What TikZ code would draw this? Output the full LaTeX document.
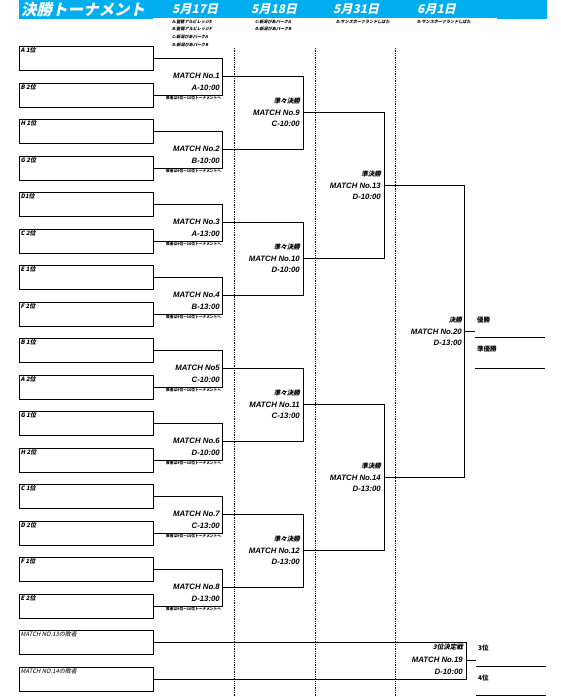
\documentclass[tikz,border=0pt]{standalone}
\usepackage{fontspec}
\setmainfont{Liberation Sans}
\newfontfamily\jp{Noto Sans CJK JP}
\newfontfamily\jpi{Noto Sans CJK JP}[FakeSlant=0.22]
\definecolor{hdrblue}{HTML}{00AEEF}
\begin{document}
\begin{tikzpicture}[x=1pt,y=-1pt,
  teambox/.style={draw,line width=0.8pt,minimum width=134pt,minimum height=24pt,inner sep=0pt,anchor=north west},
  tlab/.style={anchor=north west,inner sep=1.5pt,font=\jpi\bfseries\fontsize{6}{6}\selectfont},
  mlab/.style={anchor=east,inner sep=0pt,font=\bfseries\itshape\fontsize{7.8}{8}\selectfont},
  slab/.style={anchor=east,inner sep=0pt,font=\jpi\bfseries\fontsize{6.5}{7}\selectfont},
  rlab/.style={anchor=west,inner sep=0pt,font=\jp\bfseries\fontsize{6.5}{7}\selectfont},
  note/.style={anchor=west,inner sep=0pt,font=\jp\bfseries\fontsize{3.7}{4}\selectfont},
  venue/.style={anchor=west,inner sep=0pt,font=\jpi\bfseries\fontsize{4.1}{4.5}\selectfont},
  datel/.style={anchor=west,inner sep=0pt,text=white,font=\jpi\bfseries\fontsize{12}{12}\selectfont},
  bline/.style={line width=0.8pt},
  vdot/.style={line width=0.7pt,dash pattern=on 1.3pt off 1pt}]
\useasboundingbox (0,0) rectangle (561,697);
% header
\fill[hdrblue] (19,0) rectangle (547,19);
\fill[white] (153,17.6) rectangle (497,19.2);
\node[anchor=west,inner sep=0pt,text=white,font=\jpi\bfseries\fontsize{15.5}{15.5}\selectfont] (title) at (21,9.5) {決勝トーナメント};
\node[datel] (d1) at (172,9.5) {5月17日};
\node[datel] (d2) at (251,9.5) {5月18日};
\node[datel] (d3) at (333,9.5) {5月31日};
\node[datel] (d4) at (417,9.5) {6月1日};
% venues
\node[venue] (v1) at (172,22) {A:聖籠アルビレッジE};
\node[venue] (v2) at (172,29) {B:聖籠アルビレッジF};
\node[venue] (v3) at (172,37) {C:新潟ぴあパークA};
\node[venue] (v4) at (172,44.5) {D:新潟ぴあパークB};
\node[venue] (v5) at (255,22) {C:新潟ぴあパークA};
\node[venue] (v6) at (255,29) {D:新潟ぴあパークB};
\node[venue] (v7) at (336,22) {D:サンスポーツランドしばた};
\node[venue] (v8) at (417,22) {D:サンスポーツランドしばた};
% dotted day separators
\foreach \x [count=\n] in {234,315,395.5}{
  \coordinate (dt\n) at (\x,48);
  \coordinate (db\n) at (\x,697);
  \draw[vdot] (dt\n) -- (db\n);
}
% team boxes
\foreach \lab [count=\i] in {A 1位,B 2位,H 1位,G 2位,D1位,C 2位,E 1位,F 2位,B 1位,A 2位,G 1位,H 2位,C 1位,D 2位,F 1位,E 2位}{
  \pgfmathsetmacro\ty{46+(\i-1)*36.5}
  \node[teambox,label={[tlab,name=bl\i]north west:\lab}] (b\i) at (19,\ty) {};
}
% round 1
\foreach \k/\mn/\tm in {1/No.1/A-10:00,2/No.2/B-10:00,3/No.3/A-13:00,4/No.4/B-13:00,5/No5/C-10:00,6/No.6/D-10:00,7/No.7/C-13:00,8/No.8/D-13:00}{
  \pgfmathsetmacro\oy{76.25+(\k-1)*73}
  \pgfmathtruncatemacro\ba{2*\k-1}
  \pgfmathtruncatemacro\bb{2*\k}
  \coordinate (j\k) at (222,\oy);
  \draw[bline] (b\ba.east) -| (j\k);
  \draw[bline] (b\bb.east) -| (j\k);
  \node[mlab] (mt\k) at (220,\oy) {MATCH \mn};
  \node[mlab] (tm\k) at (220,\oy+11.5) {\tm};
  \node[note] (nt\k) at (166,\oy+21.5) {敗者は9位～16位トーナメントへ};
}
% round 2
\foreach \j/\mn/\tm in {1/9/C-10:00,2/10/D-10:00,3/11/C-13:00,4/12/D-13:00}{
  \pgfmathsetmacro\oy{112.75+(\j-1)*146}
  \pgfmathtruncatemacro\ja{2*\j-1}
  \pgfmathtruncatemacro\jb{2*\j}
  \coordinate (k\j) at (303,\oy);
  \draw[bline] (j\ja) -| (k\j);
  \draw[bline] (j\jb) -| (k\j);
  \node[slab] (sk\j) at (300,\oy-12) {準々決勝};
  \node[mlab] (mk\j) at (300,\oy) {MATCH No.\mn};
  \node[mlab] (tk\j) at (300,\oy+11.5) {\tm};
}
% round 3
\foreach \j/\mn/\tm in {1/13/D-10:00,2/14/D-13:00}{
  \pgfmathsetmacro\oy{185.75+(\j-1)*292}
  \pgfmathtruncatemacro\ja{2*\j-1}
  \pgfmathtruncatemacro\jb{2*\j}
  \coordinate (l\j) at (384,\oy);
  \draw[bline] (k\ja) -| (l\j);
  \draw[bline] (k\jb) -| (l\j);
  \node[slab] (sl\j) at (381,\oy-12) {準決勝};
  \node[mlab] (ml\j) at (381,\oy) {MATCH No.\mn};
  \node[mlab] (tl\j) at (381,\oy+11.5) {\tm};
}
% final
\coordinate (f20) at (464,331.75);
\draw[bline] (l1) -| (f20);
\draw[bline] (l2) -| (f20);
\coordinate (w20) at (475,331.75);
\draw[bline] (f20) -- (w20);
\node[slab] (sf) at (462,319.75) {決勝};
\node[mlab] (mf) at (462,331.75) {MATCH No.20};
\node[mlab] (tf) at (462,343.25) {D-13:00};
\node[rlab] (win) at (477,320) {優勝};
\node[rlab] (run) at (477,349) {準優勝};
\coordinate (wa1) at (475,337); \coordinate (wa2) at (545,337);
\coordinate (wb1) at (475,368); \coordinate (wb2) at (545,368);
\draw[bline] (wa1) -- (wa2);
\draw[bline] (wb1) -- (wb2);
% third place
\node[teambox,label={[tlab,name=bl17,font=\jpi\fontsize{6}{6}\selectfont]north west:MATCH NO.13の敗者}] (b17) at (19,630) {};
\node[teambox,label={[tlab,name=bl18,font=\jpi\fontsize{6}{6}\selectfont]north west:MATCH NO.14の敗者}] (b18) at (19,666.5) {};
\coordinate (f19) at (466,660.25);
\draw[bline] (b17.east) -| (f19);
\draw[bline] (b18.east) -| (f19);
\coordinate (w19) at (476,660.25);
\draw[bline] (f19) -- (w19);
\node[slab] (s19) at (463,647.5) {3位決定戦};
\node[mlab] (m19) at (463,660.25) {MATCH No.19};
\node[mlab] (t19) at (463,672) {D-10:00};
\node[rlab] (third) at (478,648) {3位};
\node[rlab] (fourth) at (478,678) {4位};
\coordinate (ta1) at (476,666); \coordinate (ta2) at (546,666);
\coordinate (tb1) at (476,695.5); \coordinate (tb2) at (546,695.5);
\draw[bline] (ta1) -- (ta2);
\draw[bline] (tb1) -- (tb2);
\end{tikzpicture}
\end{document}
